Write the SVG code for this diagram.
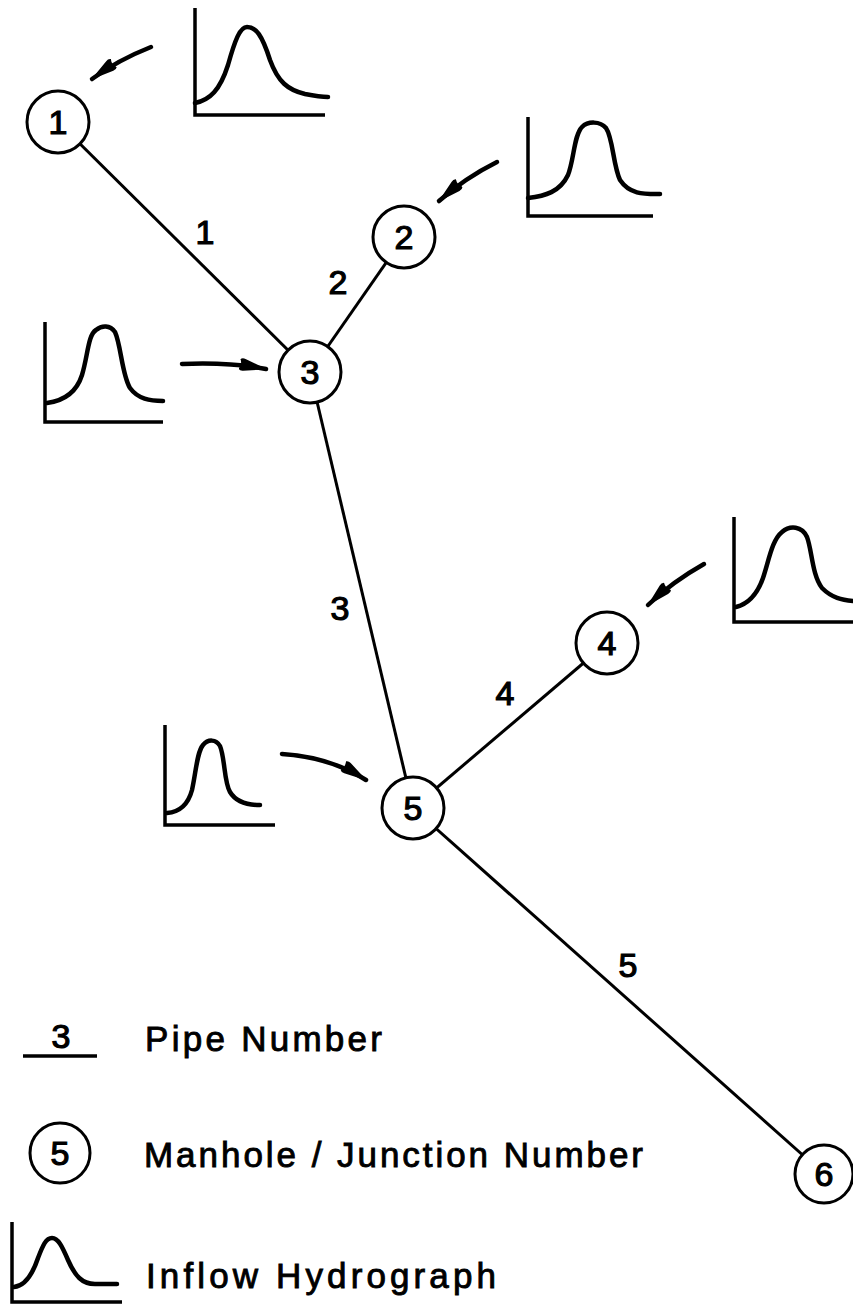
<svg xmlns="http://www.w3.org/2000/svg" width="853" height="1306" viewBox="0 0 853 1306">
<style>
.edge{stroke:#000;stroke-width:3;fill:none}
.arrow{stroke:#000;stroke-width:4.5;fill:none;stroke-linecap:round}
.node{fill:#fff;stroke:#000;stroke-width:3}
.num{font-family:"Liberation Sans",Arial,sans-serif;font-size:34px;fill:#000;stroke:#000;stroke-width:1.2;text-anchor:middle}
.axis{stroke:#000;stroke-width:3.5;fill:none}
.curve{stroke:#000;stroke-width:4.5;fill:none;stroke-linecap:round}
.legend{font-family:"Liberation Sans",Arial,sans-serif;font-size:35px;fill:#000;stroke:#000;stroke-width:0.9}
</style>
<defs>
<marker id="ah" viewBox="0 0 28 14" refX="27" refY="7" markerWidth="28" markerHeight="14" markerUnits="userSpaceOnUse" orient="auto">
<path d="M0,2 Q2,0 5,1 L28,7 L5,13 Q2,14 0,12 Q3,7 0,2 z" fill="#000"/>
</marker>
</defs>
<rect width="853" height="1306" fill="#fff"/>
<g id="connectors">
<line class="edge" x1="58" y1="122" x2="310" y2="372"/>
<line class="edge" x1="404" y1="237" x2="310" y2="372"/>
<line class="edge" x1="310" y1="372" x2="413" y2="808"/>
<line class="edge" x1="607" y1="643" x2="413" y2="808"/>
<line class="edge" x1="413" y1="808" x2="824" y2="1174"/>
<path class="arrow" d="M151,47 Q118,60 92,79" marker-end="url(#ah)"/>
<path class="arrow" d="M497,162 Q465,178 439,201" marker-end="url(#ah)"/>
<path class="arrow" d="M182,364 Q230,362 266,369" marker-end="url(#ah)"/>
<path class="arrow" d="M704,564 Q672,582 648,605" marker-end="url(#ah)"/>
<path class="arrow" d="M282,754 Q330,757 366,780" marker-end="url(#ah)"/>
</g>
<g id="pipe-labels">
<text class="num" x="205" y="244">1</text>
<text class="num" x="338" y="294">2</text>
<text class="num" x="340" y="620">3</text>
<text class="num" x="505" y="705">4</text>
<text class="num" x="628" y="977">5</text>
</g>
<g id="node1"><circle class="node" cx="58" cy="122" r="31"/><text class="num" x="58" y="134">1</text></g>
<g id="node2"><circle class="node" cx="404" cy="237" r="31"/><text class="num" x="404" y="249">2</text></g>
<g id="node3"><circle class="node" cx="310" cy="372" r="31"/><text class="num" x="310" y="384">3</text></g>
<g id="node4"><circle class="node" cx="607" cy="643" r="31"/><text class="num" x="607" y="655">4</text></g>
<g id="node5"><circle class="node" cx="413" cy="808" r="31"/><text class="num" x="413" y="820">5</text></g>
<g id="node6"><circle class="node" cx="824" cy="1174" r="29"/><text class="num" x="824" y="1186">6</text></g>
<g id="hydrograph1">
<path class="axis" d="M195,8 V115 H325"/>
<path class="curve" d="M195,103 C210,100 220,90 228,65 C235,40 240,27 247,27 C256,27 262,35 270,60 C278,82 288,90 305,94 C315,96 322,97 328,97"/>
</g>
<g id="hydrograph2">
<path class="axis" d="M528,117 V216 H653"/>
<path class="curve" d="M528,198 C545,196 560,192 568,175 C574,160 574,135 582,127 C588,121 600,121 606,128 C613,138 613,165 620,180 C630,195 645,194 660,194"/>
</g>
<g id="hydrograph3">
<path class="axis" d="M45,322 V422 H163"/>
<path class="curve" d="M47,403 C62,401 76,394 82,375 C88,355 88,335 96,330 C102,325 110,325 115,332 C121,345 122,375 130,388 C138,399 150,401 163,401"/>
</g>
<g id="hydrograph4">
<path class="axis" d="M734,517 V622 H853"/>
<path class="curve" d="M736,607 C748,604 757,595 763,578 C769,560 772,540 782,532 C790,525 802,526 807,537 C812,550 812,575 822,588 C832,598 842,600 853,601"/>
</g>
<g id="hydrograph5">
<path class="axis" d="M165,725 V825 H275"/>
<path class="curve" d="M167,813 C180,812 188,805 192,790 C196,772 197,752 203,745 C208,739 216,739 220,746 C225,758 224,782 230,792 C236,802 248,805 260,805"/>
</g>
<g id="legend">
<text class="num" x="61" y="1048">3</text>
<line class="axis" x1="23" y1="1056" x2="97" y2="1056"/>
<text class="legend" x="145" y="1051" textLength="237" lengthAdjust="spacing">Pipe Number</text>
<circle class="node" cx="60" cy="1153" r="30"/>
<text class="num" x="60" y="1165">5</text>
<text class="legend" x="144" y="1167" textLength="499" lengthAdjust="spacing">Manhole / Junction Number</text>
<path class="axis" d="M12,1222 V1302 H122"/>
<path class="curve" d="M14,1287 C24,1286 32,1276 38,1258 C43,1245 46,1238 52,1238 C58,1238 62,1246 68,1260 C75,1276 82,1284 95,1284 L117,1284"/>
<text class="legend" x="146" y="1288" textLength="350" lengthAdjust="spacing">Inflow Hydrograph</text>
</g>
</svg>
